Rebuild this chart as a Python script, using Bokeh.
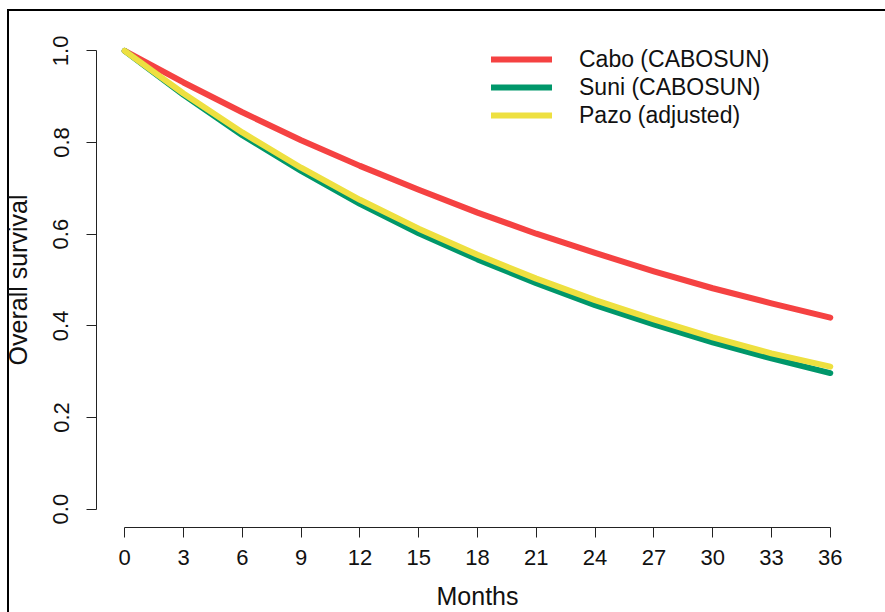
from bokeh.plotting import figure
from bokeh.models import Range1d, FixedTicker, PrintfTickFormatter
from bokeh.embed import file_html
from bokeh.resources import INLINE

months = [0, 3, 6, 9, 12, 15, 18, 21, 24, 27, 30, 33, 36]
cabo = [1.0, 0.931, 0.866, 0.805, 0.749, 0.697, 0.647, 0.601, 0.559, 0.519, 0.482, 0.449, 0.418]
suni = [1.0, 0.904, 0.816, 0.738, 0.666, 0.602, 0.545, 0.493, 0.445, 0.403, 0.364, 0.329, 0.297]
pazo = [1.0, 0.907, 0.822, 0.745, 0.675, 0.612, 0.555, 0.503, 0.456, 0.414, 0.375, 0.340, 0.311]
series_names = ["Cabo (CABOSUN)", "Suni (CABOSUN)", "Pazo (adjusted)"]
series_colors = ["#F54242", "#00976A", "#EEE040"]
x_ticks = list(range(0, 37, 3))
y_ticks = [0.0, 0.2, 0.4, 0.6, 0.8, 1.0]

FONT = "Liberation Sans"

p = figure(width=885, height=612, output_backend="svg", toolbar_location=None,
           x_range=Range1d(-1.44, 37.44), y_range=Range1d(-0.04, 1.04),
           min_border_left=93, min_border_right=27, min_border_top=32, min_border_bottom=83)
p.styles = {
    "background-color": "white",
    "background-image": "linear-gradient(black, black), linear-gradient(black, black)",
    "background-size": "2px 100%, 100% 2px",
    "background-position": "7px 9px, 7px 9px",
    "background-repeat": "no-repeat",
}
p.border_fill_alpha = 0
p.background_fill_color = "white"
p.outline_line_color = None
p.grid.visible = False

for ys, name, col in zip([cabo, suni, pazo], series_names, series_colors):
    p.line(months, ys, line_color=col, line_width=6, line_cap="round", line_join="round",
           legend_label=name)

for ax in (p.xaxis[0], p.yaxis[0]):
    ax.axis_line_color = "#222222"
    ax.major_tick_line_color = "#222222"
    ax.major_tick_out = 10
    ax.major_tick_in = 0
    ax.minor_tick_line_color = None
    ax.major_label_text_font = FONT
    ax.major_label_text_font_size = "22px"
    ax.major_label_text_color = "#111111"
    ax.axis_label_text_font = FONT
    ax.axis_label_text_font_size = "25px"
    ax.axis_label_text_font_style = "normal"
    ax.axis_label_text_color = "#111111"

p.xaxis[0].ticker = FixedTicker(ticks=x_ticks)
p.xaxis[0].bounds = (0, 36)
p.xaxis[0].major_label_standoff = 12
p.xaxis[0].axis_label = "Months"
p.xaxis[0].axis_label_standoff = 14

p.yaxis[0].ticker = FixedTicker(ticks=y_ticks)
p.yaxis[0].formatter = PrintfTickFormatter(format="%.1f")
p.yaxis[0].bounds = (0, 1)
p.yaxis[0].major_label_orientation = "vertical"
p.yaxis[0].major_label_standoff = 18
p.yaxis[0].axis_label = "Overall survival"
p.yaxis[0].axis_label_standoff = 19

lg = p.legend[0]
lg.location = (395, 398)
lg.border_line_color = None
lg.background_fill_alpha = 0
lg.padding = 0
lg.margin = 0
lg.spacing = 0
lg.glyph_width = 61
lg.glyph_height = 28
lg.label_height = 28
lg.label_standoff = 27
lg.label_text_font = FONT
lg.label_text_font_size = "23px"
lg.label_text_color = "#111111"

open("out.html", "w").write(file_html(p, INLINE))
